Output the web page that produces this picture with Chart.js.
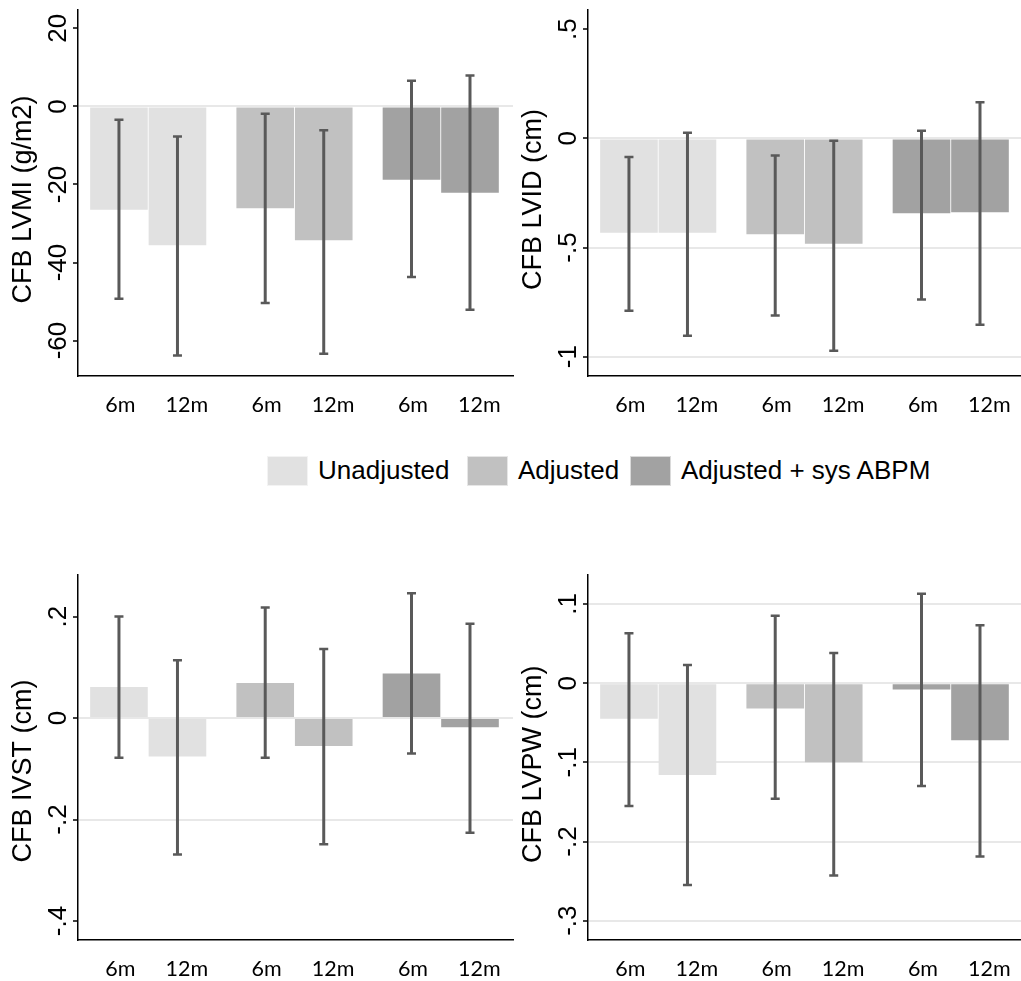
<!DOCTYPE html>
<html>
<head>
<meta charset="utf-8">
<script src="https://cdn.jsdelivr.net/npm/chart.js@4.4.1/dist/chart.umd.min.js"></script>
<style>
  html, body { margin: 0; padding: 0; background: #fff; overflow: hidden; }
  body { width: 1021px; height: 981px; position: relative; }
  .panel { position: absolute; width: 515px; }
  .legend-item { position: absolute; top: 455px; height: 31px; display: flex; align-items: center;
    font-family: 'Liberation Sans', Arial, sans-serif; font-size: 26px; color: #000; white-space: nowrap; }
  .swatch { width: 41px; height: 30px; margin-right: 10px; box-sizing: border-box; border: 1px solid rgba(255,255,255,0.6); }
</style>
</head>
<body>
<div class="panel" style="left:0;top:0;height:420px"><canvas id="lvmi"></canvas></div>
<div class="panel" style="left:510px;top:0;height:420px"><canvas id="lvid"></canvas></div>
<div class="panel" style="left:0;top:560px;height:421px"><canvas id="ivst"></canvas></div>
<div class="panel" style="left:510px;top:560px;height:421px"><canvas id="lvpw"></canvas></div>
<div id="legend"></div>
<script>
const timepoints = ['6m', '12m', '6m', '12m', '6m', '12m'];
const seriesNames = ['Unadjusted', 'Adjusted', 'Adjusted + sys ABPM'];
const seriesColors = ['#e1e1e1', '#c1c1c1', '#a2a2a2'];

// order: unadjusted 6m,12m / adjusted 6m,12m / adjusted + sys ABPM 6m,12m
const lvmiMean = [-26.5, -35.6, -26.1, -34.3, -18.8, -22.1];
const lvmiLow  = [-49.3, -63.8, -50.4, -63.4, -43.7, -52.1];
const lvmiHigh = [-3.4, -7.7, -1.9, -6.1, 6.6, 7.9];
const lvmiTicks = [20, 0, -20, -40, -60];
const lvmiLines = [0];

const lvidMean = [-0.432, -0.432, -0.439, -0.483, -0.343, -0.338];
const lvidLow  = [-0.790, -0.904, -0.811, -0.973, -0.738, -0.854];
const lvidHigh = [-0.085, 0.026, -0.078, -0.011, 0.035, 0.166];
const lvidTicks = [0.5, 0, -0.5, -1];
const lvidLines = [0, -0.5, -1];

const ivstMean = [0.061, -0.076, 0.069, -0.055, 0.088, -0.018];
const ivstLow  = [-0.078, -0.269, -0.078, -0.249, -0.070, -0.226];
const ivstHigh = [0.200, 0.114, 0.218, 0.136, 0.246, 0.186];
const ivstTicks = [0.2, 0, -0.2, -0.4];
const ivstLines = [0, -0.2];

const lvpwMean = [-0.045, -0.116, -0.032, -0.100, -0.008, -0.072];
const lvpwLow  = [-0.155, -0.255, -0.146, -0.243, -0.130, -0.219];
const lvpwHigh = [0.063, 0.023, 0.085, 0.038, 0.113, 0.073];
const lvpwTicks = [0.1, 0, -0.1, -0.2, -0.3];
const lvpwLines = [0.1, 0, -0.1, -0.2, -0.3];

// bar slots: two per group, half a bar gap between groups
const barX = timepoints.map((t, i) => Math.floor(i / 2) * 2.5 + i % 2);
const labelX = barX.map((x, i) => x + (i % 2 ? 0.16 : 0.025));

const yFont = { family: "'Liberation Sans', Arial, sans-serif", size: 26 };
const fmt = v => String(v).replace(/^(-?)0\./, '$1.');

const measure = document.createElement('canvas').getContext('2d');
measure.font = '26px "Liberation Sans", Arial, sans-serif';

const errorBars = {
  id: 'errorBars',
  afterDatasetsDraw(chart) {
    const ctx = chart.ctx;
    const y = chart.scales.y;
    ctx.save();
    ctx.strokeStyle = '#595959';
    chart.data.datasets.forEach((ds, d) => {
      chart.getDatasetMeta(d).data.forEach((bar, j) => {
        const top = y.getPixelForValue(ds.hi[j]);
        const bot = y.getPixelForValue(ds.lo[j]);
        ctx.lineWidth = 3;
        ctx.beginPath();
        ctx.moveTo(bar.x, top);
        ctx.lineTo(bar.x, bot);
        ctx.stroke();
        ctx.lineWidth = 2.5;
        ctx.beginPath();
        ctx.moveTo(bar.x - 4.5, top); ctx.lineTo(bar.x + 4.5, top);
        ctx.moveTo(bar.x - 4.5, bot); ctx.lineTo(bar.x + 4.5, bot);
        ctx.stroke();
      });
    });
    ctx.restore();
  }
};

function makePanel(id, title, mean, low, high, ticks, lines, yMin, yMax, padTop, xHeight) {
  const widest = Math.max(...ticks.map(v => measure.measureText(fmt(v)).width));
  const datasets = seriesNames.map((name, s) => ({
    label: name,
    data: [0, 1].map(k => ({ x: barX[2 * s + k], y: mean[2 * s + k] })),
    lo: low.slice(2 * s, 2 * s + 2),
    hi: high.slice(2 * s, 2 * s + 2),
    backgroundColor: seriesColors[s],
    borderWidth: 0,
    grouped: false,
    barPercentage: 0.985,
    categoryPercentage: 1
  }));

  new Chart(document.getElementById(id), {
    type: 'bar',
    data: { datasets },
    plugins: [errorBars],
    options: {
      responsive: true,
      maintainAspectRatio: false,
      animation: false,
      layout: { padding: { top: padTop, right: 2, left: 0, bottom: 0 } },
      plugins: { legend: { display: false }, tooltip: { enabled: false } },
      scales: {
        x: {
          type: 'linear',
          min: -0.7,
          max: 6.735,
          offset: false,
          grid: { display: false, drawTicks: false },
          border: { display: true, color: '#000', width: 1.5 },
          afterBuildTicks: scale => { scale.ticks = labelX.map(v => ({ value: v })); },
          afterFit: scale => {
            scale.height = xHeight;
            scale.paddingLeft = 0;
            scale.paddingRight = 0;
          },
          ticks: {
            autoSkip: false,
            maxRotation: 0,
            padding: 16,
            color: '#000',
            font: { family: 'Lato, sans-serif', size: 21.5 },
            callback: (v, i) => timepoints[i]
          }
        },
        y: {
          min: yMin,
          max: yMax,
          afterBuildTicks: scale => { scale.ticks = ticks.map(v => ({ value: v })); },
          afterFit: scale => {
            scale.width = 78;
            scale.paddingTop = 0;
            scale.paddingBottom = 0;
          },
          grid: {
            lineWidth: 2,
            color: c => (c.tick && lines.includes(c.tick.value)) ? '#e8e8e8' : 'rgba(0,0,0,0)',
            tickColor: '#000',
            tickWidth: 1.5,
            tickLength: 5
          },
          border: { display: true, color: '#000', width: 1.5 },
          ticks: {
            minRotation: 90,
            maxRotation: 90,
            crossAlign: 'center',
            padding: 14 - widest / 2,
            color: '#000',
            font: yFont,
            callback: v => fmt(v)
          },
          title: {
            display: true,
            text: title,
            color: '#000',
            padding: { top: 7, bottom: 0 },
            font: { family: "'Liberation Sans', Arial, sans-serif", size: 27 }
          }
        }
      }
    }
  });
}

// trailing spaces nudge the rotated titles slightly below the axis centre, as in the original
makePanel('lvmi', 'CFB LVMI (g/m2)\u2002', lvmiMean, lvmiLow, lvmiHigh, lvmiTicks, lvmiLines, -69, 24.7, 10, 44.3);
makePanel('lvid', 'CFB LVID (cm)\u2002', lvidMean, lvidLow, lvidHigh, lvidTicks, lvidLines, -1.087, 0.588, 10, 44.3);
makePanel('ivst', 'CFB IVST (cm)\u2003', ivstMean, ivstLow, ivstHigh, ivstTicks, ivstLines, -0.4375, 0.282, 15, 41);
makePanel('lvpw', 'CFB LVPW (cm)\u2002', lvpwMean, lvpwLow, lvpwHigh, lvpwTicks, lvpwLines, -0.3244, 0.1366, 15, 41);

// shared legend between the two rows
const legendLeft = [267, 467, 630];
const legend = document.getElementById('legend');
seriesNames.forEach((name, s) => {
  const item = document.createElement('div');
  item.className = 'legend-item';
  item.style.left = legendLeft[s] + 'px';
  item.innerHTML = '<div class="swatch" style="background:' + seriesColors[s] + '"></div>' + name;
  legend.appendChild(item);
});
</script>
</body>
</html>
